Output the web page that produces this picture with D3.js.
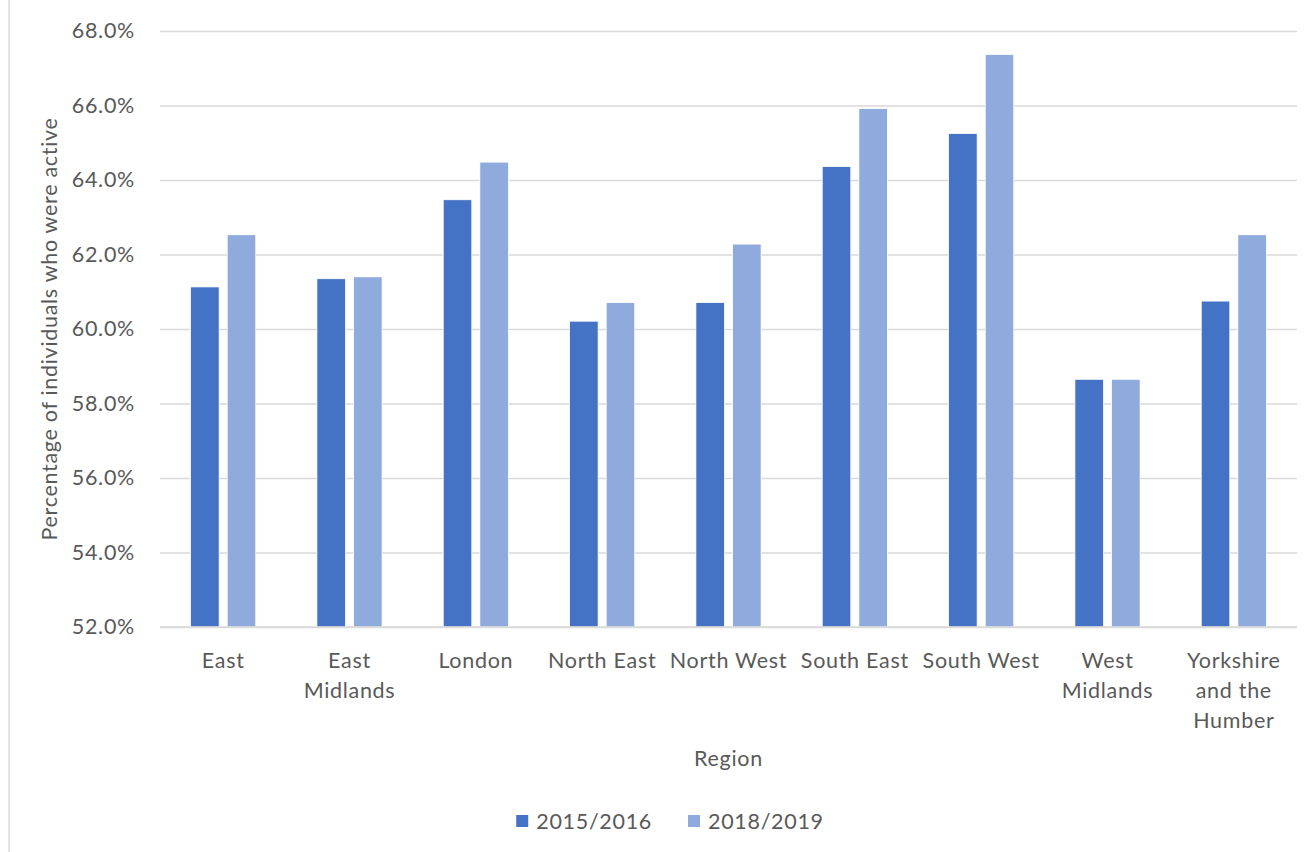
<!DOCTYPE html>
<html>
<head>
<meta charset="utf-8">
<script src="https://cdn.jsdelivr.net/npm/d3@7"></script>
<style>
  body { margin: 0; background: #fff; }
  svg text { font-family: Lato, "Open Sans", sans-serif; fill: #595959; letter-spacing: 0.7px; }
</style>
</head>
<body>
<div id="chart"></div>
<script>
// chart values
var regions = ["East", "East Midlands", "London", "North East", "North West",
               "South East", "South West", "West Midlands", "Yorkshire and the Humber"];
var seriesNames = ["2015/2016", "2018/2019"];
var values2015 = [61.13, 61.35, 63.47, 60.21, 60.71, 64.36, 65.25, 58.65, 60.75];
var values2018 = [62.53, 61.40, 64.48, 60.71, 62.28, 65.92, 67.37, 58.65, 62.53];
var yTicks = [52, 54, 56, 58, 60, 62, 64, 66, 68];
var colors = ["#4472C4", "#8FAADC"];

var width = 1316, height = 852;
var plot = { left: 160, right: 1297, top: 31, bottom: 627 };
var fontSize = '21.5px';

var rows = regions.map(function(r, i) {
    return { region: r, vals: [values2015[i], values2018[i]] };
});

var svg = d3.select('#chart').append('svg')
    .attr('width', width)
    .attr('height', height);

// thin chart-area border on the left
svg.append('line')
    .attr('x1', 9).attr('x2', 9).attr('y1', 0).attr('y2', height)
    .attr('stroke', '#d9d9d9').attr('stroke-width', 1.5);

var x0 = d3.scaleBand().domain(regions).range([plot.left, plot.right]).padding(0);
var bw = x0.bandwidth();
var x1 = d3.scaleBand().domain([0, 1])
    .range([bw / 2 - 32.6, bw / 2 + 32.6])
    .paddingInner(0.22);
var y = d3.scaleLinear().domain([52, 68]).range([plot.bottom, plot.top]);

// gridlines + y labels
var yAxis = d3.axisLeft(y)
    .tickValues(yTicks)
    .tickSize(-(plot.right - plot.left))
    .tickPadding(25)
    .tickFormat(function(d) { return d.toFixed(1) + '%'; });

var gy = svg.append('g')
    .attr('transform', 'translate(' + plot.left + ',0)')
    .call(yAxis);
gy.select('.domain').remove();
gy.selectAll('.tick line').attr('stroke', '#d9d9d9').attr('stroke-width', 1.3);
gy.selectAll('.tick text')
    .attr('fill', '#595959')
    .style('font-size', fontSize);

// bars
var groups = svg.selectAll('g.grp')
    .data(rows)
    .enter()
    .append('g')
    .attr('class', 'grp')
    .attr('transform', function(d) { return 'translate(' + x0(d.region) + ',0)'; });

groups.selectAll('rect')
    .data(function(d) { return d.vals; })
    .enter()
    .append('rect')
    .attr('x', function(d, i) { return x1(i); })
    .attr('width', x1.bandwidth())
    .attr('y', function(d) { return y(d); })
    .attr('height', function(d) { return y(52) - y(d); })
    .attr('fill', function(d, i) { return colors[i]; })
    .attr('stroke', '#ffffff')
    .attr('stroke-width', 0.8);

// x axis baseline
svg.append('line')
    .attr('x1', plot.left).attr('x2', plot.right)
    .attr('y1', y(52)).attr('y2', y(52))
    .attr('stroke', '#d9d9d9').attr('stroke-width', 1.3);

// category labels, wrapped
var maxW = bw * 0.97;
var labels = svg.selectAll('text.cat')
    .data(regions)
    .enter()
    .append('text')
    .attr('class', 'cat')
    .attr('text-anchor', 'middle')
    .style('font-size', fontSize)
    .attr('x', function(d) { return x0(d) + bw / 2; })
    .attr('y', 668);

labels.each(function(d) {
    var t = d3.select(this);
    var words = d.split(' ');
    var line = [];
    var tspan = t.append('tspan').attr('x', t.attr('x')).attr('dy', 0);
    words.forEach(function(w) {
        line.push(w);
        tspan.text(line.join(' '));
        if (tspan.node().getComputedTextLength() > maxW && line.length > 1) {
            line.pop();
            tspan.text(line.join(' '));
            line = [w];
            tspan = t.append('tspan').attr('x', t.attr('x')).attr('dy', 30).text(w);
        }
    });
});

// axis titles
svg.append('text')
    .attr('x', (plot.left + plot.right) / 2)
    .attr('y', 766)
    .attr('text-anchor', 'middle')
    .style('font-size', fontSize)
    .text('Region');

svg.append('text')
    .attr('transform', 'translate(57,' + ((plot.top + plot.bottom) / 2) + ') rotate(-90)')
    .attr('text-anchor', 'middle')
    .style('font-size', fontSize)
    .text('Percentage of individuals who were active');

// legend
var legend = svg.append('g');
var lx = 0;
seriesNames.forEach(function(name, i) {
    var item = legend.append('g').attr('transform', 'translate(' + lx + ',0)');
    item.append('rect')
        .attr('x', 0).attr('y', -6).attr('width', 12).attr('height', 12)
        .attr('fill', colors[i]);
    var t = item.append('text')
        .attr('x', 20).attr('y', 7.5)
        .style('font-size', fontSize)
        .text(name);
    lx += 20 + t.node().getComputedTextLength() + 36;
});
var legW = lx - 36;
legend.attr('transform', 'translate(' + (670 - legW / 2) + ',821)');
</script>
</body>
</html>
